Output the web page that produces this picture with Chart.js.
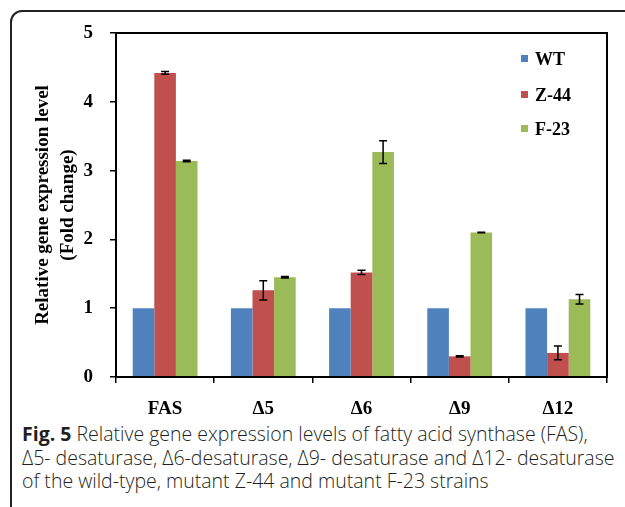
<!DOCTYPE html>
<html lang="en">
<head>
    <meta charset="UTF-8">
    <title>Fig. 5</title>
    <script src="https://cdn.jsdelivr.net/npm/chart.js"></script>
    <style>
        body { margin: 0; background: #fff; width: 625px; height: 507px; position: relative; overflow: hidden; }
        #frame { position: absolute; left: 10px; top: 10px; width: 700px; height: 600px; border: 2px solid #222; border-top-left-radius: 12px; }
        #wrap { position: absolute; left: 0; top: 0; width: 625px; height: 420px; }
        .leg { position: absolute; left: 521px; font: bold 18px "Liberation Serif", serif; color: #000; }
        .leg i { display: inline-block; width: 7px; height: 7px; margin-right: 7px; vertical-align: 3px; }
        #caption { position: absolute; left: 22px; top: 422px; font: 300 19.5px "Open Sans", sans-serif; line-height: 23.5px; color: #231f20; white-space: nowrap; }
        #caption b { font-weight: 700; }
    </style>
</head>
<body>
    <div id="frame"></div>
    <div id="wrap"><canvas id="chart"></canvas></div>
    <div class="leg" style="top:49px"><i style="background:#4f81bd"></i>WT</div>
    <div class="leg" style="top:85px"><i style="background:#c0504d"></i>Z-44</div>
    <div class="leg" style="top:119px"><i style="background:#9bbb59"></i>F-23</div>
    <div id="caption"><b>Fig. 5</b> Relative gene expression levels of fatty acid synthase (FAS),<br>Δ5- desaturase, Δ6-desaturase, Δ9- desaturase and Δ12- desaturase<br>of the wild-type, mutant Z-44 and mutant F-23 strains</div>

    <script>
        const genes = ["FAS", "Δ5", "Δ6", "Δ9", "Δ12"];
        const wt = [1, 1, 1, 1, 1];
        const z44 = [4.42, 1.26, 1.52, 0.30, 0.35];
        const f23 = [3.14, 1.45, 3.27, 2.10, 1.13];
        const z44Err = [0.02, 0.14, 0.03, 0.01, 0.10];
        const f23Err = [0.01, 0.01, 0.165, 0.005, 0.07];
        const yTicks = [0, 1, 2, 3, 4, 5];

        const serif = "'Liberation Serif', 'Times New Roman', serif";

        // error bars + box round the plot
        const extras = {
            id: "extras",
            afterDatasetsDraw(chart) {
                const ctx = chart.ctx;
                const y = chart.scales.y;
                ctx.save();
                ctx.strokeStyle = "#000";
                ctx.lineWidth = 1.5;
                chart.data.datasets.forEach((ds, i) => {
                    if (!ds.err) return;
                    chart.getDatasetMeta(i).data.forEach((bar, j) => {
                        const v = ds.data[j], e = ds.err[j];
                        const top = y.getPixelForValue(v + e), bot = y.getPixelForValue(v - e);
                        ctx.beginPath();
                        ctx.moveTo(bar.x, top); ctx.lineTo(bar.x, bot);
                        ctx.moveTo(bar.x - 4, top); ctx.lineTo(bar.x + 4, top);
                        ctx.moveTo(bar.x - 4, bot); ctx.lineTo(bar.x + 4, bot);
                        ctx.stroke();
                    });
                });
                const a = chart.chartArea;
                ctx.lineWidth = 2;
                ctx.strokeRect(a.left, a.top, a.right - a.left, a.bottom - a.top);
                ctx.restore();
            }
        };

        let ctx = document.getElementById("chart").getContext("2d");
        let chart = new Chart(ctx, {
            type: "bar",
            data: {
                labels: genes,
                datasets: [
                    { label: "WT", data: wt, backgroundColor: "#4f81bd" },
                    { label: "Z-44", data: z44, err: z44Err, backgroundColor: "#c0504d" },
                    { label: "F-23", data: f23, err: f23Err, backgroundColor: "#9bbb59" }
                ]
            },
            options: {
                responsive: true,
                maintainAspectRatio: false,
                animation: false,
                layout: { padding: { left: 0, top: 33, right: 18, bottom: 0 } },
                datasets: { bar: { categoryPercentage: 0.66, barPercentage: 1.0 } },
                plugins: { legend: { display: false }, tooltip: { enabled: false } },
                scales: {
                    x: {
                        afterFit: s => { s.height = 43; },
                        grid: { drawOnChartArea: false, drawTicks: true, tickLength: 6, color: "#000", lineWidth: 1.5, offset: true },
                        border: { display: true, color: "#000", width: 2 },
                        ticks: { color: "#000", padding: 15, font: { family: serif, size: 19, weight: "bold" } }
                    },
                    y: {
                        min: 0, max: 5,
                        afterFit: s => { s.width = 116; },
                        afterBuildTicks: s => { s.ticks = yTicks.map(v => ({ value: v })); },
                        grid: { drawOnChartArea: false, drawTicks: true, tickLength: 6, color: "#000", lineWidth: 1.5 },
                        border: { display: true, color: "#000", width: 2 },
                        ticks: { color: "#000", padding: 17, font: { family: serif, size: 19, weight: "bold" } },
                        title: {
                            display: true,
                            text: ["Relative gene expression level", "(Fold change)"],
                            color: "#000",
                            padding: { top: 31, bottom: 0 },
                            font: { family: serif, size: 19, weight: "bold", lineHeight: 1.3 }
                        }
                    }
                }
            },
            plugins: [extras]
        });
    </script>
</body>
</html>
